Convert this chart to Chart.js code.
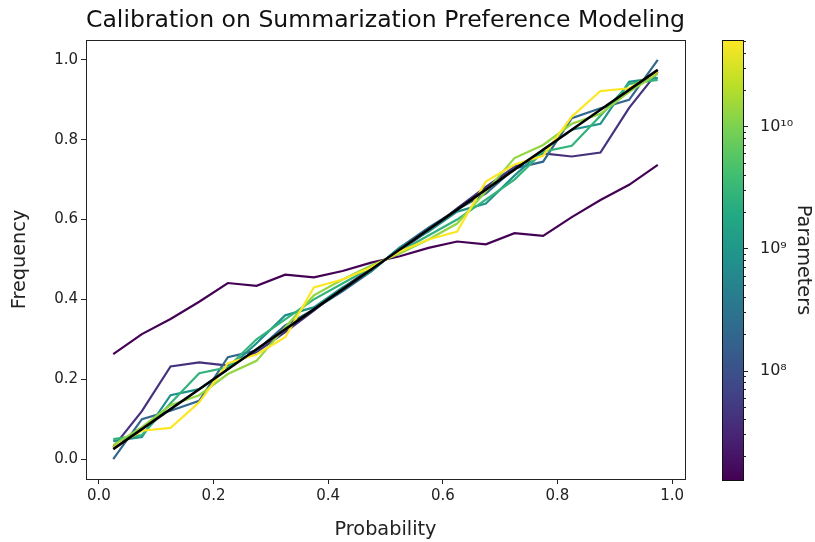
<!DOCTYPE html>
<html><head><meta charset="utf-8">
<script src="https://cdn.jsdelivr.net/npm/chart.js@4.4.1/dist/chart.umd.min.js"></script>
<style>
html,body{margin:0;padding:0;background:#fff;}
#wrap{position:relative;width:815px;height:542px;}
#main{position:absolute;left:0;top:0;}
#cbar{position:absolute;left:700px;top:0;}
</style></head>
<body><div id="wrap"><canvas id="main" width="815" height="542"></canvas><canvas id="cbar" width="115" height="542"></canvas></div>
<script>
const binCenters = [0.025,0.075,0.125,0.175,0.225,0.275,0.325,0.375,0.425,0.475,0.525,0.575,0.625,0.675,0.725,0.775,0.825,0.875,0.925,0.975];
const modelParams = [13e6, 42e6, 197e6, 810e6, 2.7e9, 13e9, 52e9];
const freq13M  = [0.263,0.313,0.351,0.394,0.441,0.434,0.462,0.455,0.471,0.492,0.508,0.529,0.545,0.538,0.566,0.559,0.606,0.649,0.687,0.737];
const freq42M  = [0.030,0.120,0.232,0.242,0.234,0.268,0.318,0.372,0.428,0.478,0.522,0.572,0.628,0.682,0.732,0.766,0.758,0.768,0.880,0.970];
const freq197M = [0.000,0.100,0.121,0.146,0.255,0.272,0.335,0.375,0.420,0.470,0.530,0.580,0.625,0.665,0.728,0.745,0.854,0.879,0.900,1.000];
const freq810M = [0.045,0.055,0.160,0.175,0.225,0.290,0.360,0.380,0.430,0.470,0.530,0.570,0.620,0.640,0.710,0.775,0.825,0.840,0.945,0.955];
const freq2_7B = [0.050,0.060,0.140,0.215,0.230,0.300,0.350,0.400,0.440,0.480,0.520,0.560,0.600,0.650,0.700,0.770,0.785,0.860,0.940,0.950];
const freq13B  = [0.035,0.080,0.135,0.160,0.213,0.246,0.330,0.410,0.450,0.485,0.515,0.550,0.590,0.670,0.754,0.787,0.840,0.865,0.920,0.965];
const freq52B  = [0.029,0.071,0.078,0.142,0.240,0.262,0.305,0.430,0.450,0.480,0.520,0.550,0.570,0.695,0.738,0.760,0.858,0.922,0.929,0.971];
const perfect  = [0.025,0.075,0.125,0.175,0.225,0.275,0.325,0.375,0.425,0.475,0.525,0.575,0.625,0.675,0.725,0.775,0.825,0.875,0.925,0.975];
const xTickValues = [0.0,0.2,0.4,0.6,0.8,1.0];
const yTickValues = [0.0,0.2,0.4,0.6,0.8,1.0];
const cbarMajorTicks = [1e8,1e9,1e10];
const cbarMinorTicks = [2e7,3e7,4e7,5e7,6e7,7e7,8e7,9e7,2e8,3e8,4e8,5e8,6e8,7e8,8e8,9e8,2e9,3e9,4e9,5e9,6e9,7e9,8e9,9e9,2e10,3e10,4e10,5e10];
const cbarTickLabels = {"100000000":"10\u2078","1000000000":"10\u2079","10000000000":"10\u00b9\u2070"};

const series = [freq13M,freq42M,freq197M,freq810M,freq2_7B,freq13B,freq52B];

const viridisStops = ['#440154','#482475','#414487','#355f8d','#2a788e','#21918c','#22a884','#44bf70','#7ad151','#bddf26','#fde725'];
function hex2rgb(h){return [parseInt(h.substr(1,2),16),parseInt(h.substr(3,2),16),parseInt(h.substr(5,2),16)];}
function viridis(t){
  t=Math.max(0,Math.min(1,t));
  const f=t*(viridisStops.length-1); const i=Math.min(Math.floor(f),viridisStops.length-2); const r=f-i;
  const a=hex2rgb(viridisStops[i]), b=hex2rgb(viridisStops[i+1]);
  return 'rgb('+a.map((v,k)=>Math.round(v+(b[k]-v)*r)).join(',')+')';
}
const cbMin = 1.27e7, cbMax = 5.1e10;
function normLog(v){return (Math.log10(v)-Math.log10(cbMin))/(Math.log10(cbMax)-Math.log10(cbMin));}

const FONT = "'DejaVu Sans', sans-serif";
const datasets = series.map((s,i)=>({
  data: s.map((y,j)=>({x:binCenters[j],y:y})),
  borderColor: viridis(normLog(modelParams[i])),
  borderWidth: 2.2,
  pointRadius: 0,
  tension: 0,
  order: series.length - i
}));
datasets.push({data: perfect.map((y,j)=>({x:binCenters[j],y:y})), borderColor:'#000', borderWidth:2.6, pointRadius:0, order:0});

const boxPlugin = {
  id:'box',
  afterDatasetsDraw(chart){
    const a=chart.chartArea, c=chart.ctx;
    c.save(); c.strokeStyle='#222'; c.lineWidth=1;
    c.strokeRect(Math.round(a.left)+0.5, Math.round(a.top)+0.5, Math.round(a.right-a.left), Math.round(a.bottom-a.top));
    c.restore();
  }
};

new Chart(document.getElementById('main'), {
  type:'line',
  data:{datasets},
  options:{
    responsive:false, animation:false, devicePixelRatio:1,
    layout:{padding:{left:0,right:130,top:0,bottom:0}},
    plugins:{
      legend:{display:false}, tooltip:{enabled:false},
      title:{display:true, fullSize:false, text:'Calibration on Summarization Preference Modeling', color:'#111',
             font:{family:FONT,size:23.8,weight:'normal'}, padding:{top:6.5,bottom:4.9}}
    },
    scales:{
      x:{type:'linear', min:-0.0225, max:1.0225,
         afterBuildTicks(s){s.ticks = xTickValues.map(v=>({value:v}));},
         afterFit(s){s.height=63;},
         ticks:{color:'#222', font:{family:FONT,size:15}, padding:3, maxRotation:0, callback:v=>Number(v).toFixed(1)},
         grid:{display:true, drawOnChartArea:false, drawTicks:true, tickLength:5, color:'#222', tickWidth:1},
         border:{display:false},
         title:{display:true, text:'Probability', color:'#222', font:{family:FONT,size:19.3}, padding:{top:0,bottom:0.5}}
      },
      y:{type:'linear', min:-0.05, max:1.05,
         afterBuildTicks(s){s.ticks = yTickValues.map(v=>({value:v}));},
         afterFit(s){s.width=86;},
         ticks:{color:'#222', font:{family:FONT,size:15}, padding:3, callback:v=>Number(v).toFixed(1)},
         grid:{display:true, drawOnChartArea:false, drawTicks:true, tickLength:5, color:'#222', tickWidth:1},
         border:{display:false},
         title:{display:true, text:'Frequency', color:'#222', font:{family:FONT,size:19.3}, padding:{top:8.4,bottom:0}}
      }
    }
  },
  plugins:[boxPlugin]
});

const cbarPlugin = {
  id:'cbarfill',
  beforeDatasetsDraw(chart){
    const a=chart.chartArea, c=chart.ctx, ys=chart.scales.y;
    c.save();
    for(let py=Math.floor(a.top); py<Math.ceil(a.bottom); py++){
      const v = ys.getValueForPixel(py+0.5);
      c.fillStyle = viridis(normLog(v));
      c.fillRect(a.left, py, a.right-a.left, 1);
    }
    c.strokeStyle='#111'; c.lineWidth=1;
    c.strokeRect(Math.round(a.left)+0.5, Math.round(a.top)+0.5, Math.round(a.right-a.left), Math.round(a.bottom-a.top));
    c.strokeStyle='#222';
    const drawTick=(v,len)=>{const p=Math.round(ys.getPixelForValue(v))+0.5; c.beginPath(); c.moveTo(a.right,p); c.lineTo(a.right+len,p); c.stroke();};
    cbarMajorTicks.forEach(v=>drawTick(v,5));
    cbarMinorTicks.forEach(v=>drawTick(v,3));
    c.restore();
  }
};

new Chart(document.getElementById('cbar'), {
  type:'line',
  data:{datasets:[{data:[], pointRadius:0}]},
  options:{
    responsive:false, animation:false, devicePixelRatio:1,
    layout:{padding:{left:22,right:0,top:40,bottom:62}},
    plugins:{legend:{display:false}, tooltip:{enabled:false}, title:{display:false}},
    scales:{
      x:{display:false, type:'linear', min:0, max:1},
      y:{type:'logarithmic', position:'right', min:cbMin, max:cbMax,
         afterBuildTicks(s){s.ticks = cbarMajorTicks.map(v=>({value:v, major:true}));},
         afterFit(s){s.width=72;},
         ticks:{color:'#222', font:{family:FONT,size:16}, padding:9, callback:v=>cbarTickLabels[String(Math.round(v))]||''},
         grid:{display:false},
         border:{display:false},
         title:{display:true, text:'Parameters', color:'#222', font:{family:FONT,size:19.3}, padding:{top:0.4,bottom:0}}
      }
    }
  },
  plugins:[cbarPlugin]
});
</script></body></html>
